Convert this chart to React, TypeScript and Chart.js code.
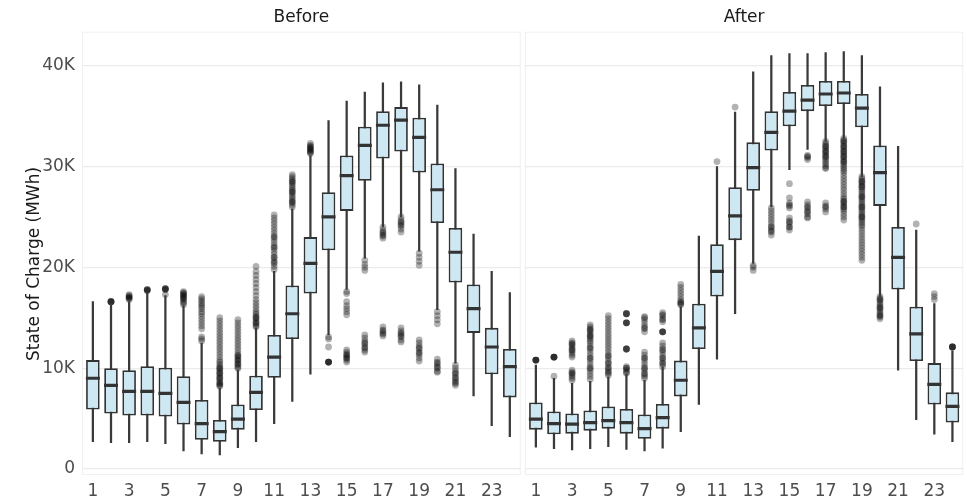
import React, { useEffect, useRef } from 'react';
import { Chart, registerables } from 'chart.js';

Chart.register(...registerables);
Chart.defaults.font.family = "'DejaVu Sans', sans-serif";

// ---------- data (values in thousands of MWh) ----------
const hours = [1, 2, 3, 4, 5, 6, 7, 8, 9, 10, 11, 12, 13, 14, 15, 16, 17, 18, 19, 20, 21, 22, 23, 24];
const xTickValues = [1, 3, 5, 7, 9, 11, 13, 15, 17, 19, 21, 23];
const yTickValues = [0, 10, 20, 30, 40];
const facetTitles = ['Before', 'After'];
const yAxisTitle = 'State of Charge (MWh)';

const beforeLow = [2.7, 2.6, 2.6, 2.7, 2.5, 1.8, 1.5, 1.4, 2.1, 2.7, 4.5, 6.7, 9.4, 13.3, 17.8, 20.9, 24.0, 25.0, 21.6, 15.8, 10.5, 7.25, 4.3, 3.2];
const beforeQ1 = [5.9, 5.5, 5.3, 5.3, 5.2, 4.4, 2.9, 2.7, 3.9, 5.85, 9.05, 12.9, 17.4, 21.7, 25.6, 28.6, 30.8, 31.5, 29.4, 24.4, 18.5, 13.5, 9.4, 7.1];
const beforeMedian = [9.0, 8.3, 7.7, 7.7, 7.5, 6.6, 4.5, 3.7, 4.95, 7.6, 11.1, 15.4, 20.4, 25.0, 29.1, 32.1, 34.1, 34.6, 32.9, 27.7, 21.5, 15.9, 12.1, 10.15];
const beforeQ3 = [10.8, 10.0, 9.8, 10.2, 10.05, 9.2, 6.85, 4.85, 6.4, 9.25, 13.3, 18.2, 23.0, 27.45, 31.1, 33.95, 35.5, 35.9, 34.85, 30.3, 23.9, 18.3, 14.0, 11.9];
const beforeHigh = [16.6, 16.4, 16.6, 17.5, 17.2, 16.2, 12.5, 8.0, 9.8, 14.0, 19.6, 25.8, 31.1, 34.55, 36.5, 37.4, 38.3, 38.4, 38.1, 36.1, 29.8, 23.3, 19.6, 17.5];
const beforeOutliers: number[][] = [
  [],
  [16.6, 16.6, 16.6, 16.6, 16.6],
  [16.8, 16.9, 17.0, 17.1, 17.2, 17.3, 17.0],
  [17.8, 17.8, 17.8, 17.7, 17.7],
  [17.3, 17.8, 17.8, 17.9, 17.9, 17.9],
  [16.3, 16.5, 16.6, 16.8, 16.9, 17.0, 17.1, 17.2, 17.3, 17.4, 17.5, 17.6],
  [12.7, 12.9, 13.1, 13.9, 14.2, 14.5, 14.8, 15.1, 15.4, 15.6, 15.9, 16.1, 16.3, 16.5, 16.7, 16.9, 17.1],
  [15.0, 14.7, 14.4, 14.1, 13.8, 13.5, 13.2, 12.9, 12.6, 12.3, 12.0, 11.7, 11.4, 11.1, 10.8, 10.6, 10.4, 10.2, 10.0, 9.8, 9.6, 9.4, 9.2, 9.0, 8.8, 8.6, 8.4, 8.2, 9.5, 9.0, 8.5, 8.3, 10.0],
  [14.8, 14.5, 14.2, 13.9, 13.6, 13.3, 13.0, 12.7, 12.4, 12.1, 11.8, 11.5, 11.3, 11.1, 10.9, 10.7, 10.5, 10.3, 10.1, 10.0, 10.4, 10.8, 11.2],
  [20.1, 19.6, 19.2, 18.8, 18.4, 18.0, 17.6, 17.2, 16.8, 16.5, 16.2, 15.9, 15.6, 15.4, 15.2, 15.0, 14.8, 14.6, 14.4, 14.2, 14.1, 15.0, 14.5],
  [25.2, 24.9, 24.6, 24.3, 24.0, 23.7, 23.4, 23.1, 22.8, 22.5, 22.2, 21.9, 21.6, 21.3, 21.0, 20.7, 20.4, 20.1, 19.8, 23.0, 22.0, 21.0, 20.5],
  [29.2, 29.0, 28.8, 28.6, 28.4, 28.2, 28.0, 27.8, 27.6, 27.4, 27.2, 27.0, 26.8, 26.6, 26.4, 26.2, 26.0, 28.5, 27.5, 26.5],
  [31.3, 31.5, 31.7, 31.9, 32.1, 32.3, 31.6, 32.0, 31.8, 31.4],
  [13.1, 12.9, 12.1, 10.6, 10.6, 10.6, 10.6, 10.6],
  [17.6, 17.4, 16.6, 16.2, 15.9, 15.6, 15.3, 11.8, 11.6, 11.4, 11.2, 11.0, 10.8, 10.6, 11.3, 11.0],
  [20.7, 20.3, 20.0, 19.7, 13.3, 13.0, 12.7, 12.4, 12.1, 11.8, 11.6, 12.5, 12.0],
  [24.0, 23.7, 23.4, 23.1, 22.9, 23.5, 23.2, 14.1, 13.8, 13.5, 13.2, 13.7, 13.4],
  [25.0, 24.7, 24.4, 24.1, 23.8, 23.5, 24.5, 24.2, 14.0, 13.7, 13.4, 13.1, 12.8, 12.6, 13.5, 13.2],
  [21.4, 21.0, 20.6, 20.2, 12.8, 12.5, 12.2, 11.9, 11.6, 11.3, 11.0, 10.7, 12.0, 11.5],
  [15.6, 15.2, 14.8, 14.4, 10.9, 10.6, 10.3, 10.0, 9.7, 9.6, 10.5, 10.1],
  [10.3, 10.0, 9.7, 9.4, 9.1, 8.8, 8.5, 8.3, 9.5, 9.0, 8.6],
  [],
  [],
  [],
];

const afterLow = [2.15, 2.0, 1.9, 2.0, 2.2, 1.95, 1.8, 2.05, 3.7, 6.4, 10.9, 15.4, 20.4, 26.0, 29.7, 31.7, 32.5, 32.8, 29.0, 17.1, 9.8, 4.9, 3.45, 2.7];
const afterQ1 = [3.9, 3.45, 3.5, 3.8, 4.0, 3.5, 3.0, 4.0, 7.2, 11.9, 17.1, 22.7, 27.6, 31.6, 34.0, 35.5, 36.0, 36.2, 33.9, 26.1, 17.8, 10.7, 6.4, 4.6];
const afterMedian = [4.95, 4.5, 4.45, 4.6, 4.8, 4.6, 4.0, 5.1, 8.8, 14.0, 19.6, 25.1, 29.9, 33.4, 35.5, 36.6, 37.2, 37.3, 35.8, 29.4, 21.0, 13.4, 8.4, 6.2];
const afterQ3 = [6.6, 5.7, 5.5, 5.8, 6.2, 5.95, 5.4, 6.45, 10.75, 16.4, 22.3, 27.95, 32.4, 35.5, 37.4, 38.1, 38.5, 38.5, 37.2, 32.1, 24.0, 16.1, 10.5, 7.6];
const afterHigh = [10.3, 9.0, 8.5, 8.7, 9.15, 9.4, 8.8, 10.1, 16.1, 23.1, 30.0, 35.4, 39.4, 41.0, 41.2, 41.2, 41.3, 41.4, 41.0, 37.9, 32.0, 23.7, 16.4, 11.7];
const afterOutliers: number[][] = [
  [10.8, 10.8, 10.8, 10.8, 10.8],
  [11.1, 11.1, 11.1, 11.1, 11.1, 9.2],
  [12.7, 12.5, 12.3, 12.1, 11.9, 11.7, 11.5, 11.3, 11.1, 12.4, 11.8, 9.8, 9.6, 9.4, 9.2, 9.0, 8.8, 9.5],
  [14.3, 14.1, 13.9, 13.7, 13.5, 13.3, 13.1, 12.9, 12.7, 12.5, 12.2, 11.9, 11.6, 11.3, 11.0, 10.7, 10.4, 10.1, 9.8, 9.5, 9.2, 8.9, 13.8, 13.2, 12.0, 11.0, 10.0],
  [15.2, 14.9, 14.6, 14.3, 14.0, 13.7, 13.4, 13.1, 12.8, 12.5, 12.2, 11.9, 11.6, 11.3, 11.0, 10.7, 10.4, 10.1, 9.8, 9.5, 9.3, 11.2, 10.5, 10.0, 9.6],
  [15.4, 15.4, 15.4, 15.4, 14.5, 14.5, 14.5, 14.5, 11.9, 11.9, 11.9, 11.9, 10.15, 10.0, 9.8, 9.6, 9.5, 10.0],
  [15.1, 14.8, 14.5, 14.2, 13.9, 13.6, 15.0, 14.0, 11.6, 11.3, 11.0, 10.7, 10.4, 10.1, 9.8, 9.5, 9.2, 9.0, 11.0, 10.0, 9.4],
  [15.5, 15.2, 14.9, 14.6, 15.3, 14.8, 13.6, 13.6, 13.6, 13.6, 12.5, 12.2, 11.9, 11.6, 11.3, 11.0, 10.7, 10.4, 10.15, 11.8, 11.0, 10.5],
  [18.3, 18.0, 17.7, 17.4, 17.1, 16.8, 16.5, 16.3, 16.6, 16.4],
  [],
  [30.5],
  [35.9],
  [20.2, 20.0, 19.7],
  [25.9, 25.6, 25.3, 25.0, 24.7, 24.4, 24.1, 23.8, 23.5, 23.2, 24.0, 23.6],
  [28.3, 26.9, 26.4, 26.1, 25.9, 26.2, 24.9, 24.6, 24.3, 24.0, 23.7, 24.5, 24.0],
  [31.1, 30.9, 30.7, 31.0, 26.5, 26.2, 25.9, 25.6, 25.3, 25.0, 24.9, 26.0, 25.5],
  [32.5, 32.3, 32.1, 31.9, 31.7, 31.5, 31.3, 31.1, 30.9, 30.7, 30.5, 30.3, 30.1, 29.9, 29.8, 32.0, 31.5, 31.0, 26.4, 26.1, 25.8, 25.5, 26.0],
  [32.8, 32.6, 32.4, 32.2, 32.0, 31.8, 31.6, 31.4, 31.2, 31.0, 30.8, 30.6, 30.4, 30.2, 30.0, 29.8, 29.6, 29.4, 29.1, 28.8, 28.5, 28.2, 27.9, 27.6, 27.3, 27.0, 26.8, 26.6, 26.4, 26.2, 26.0, 25.8, 25.6, 25.3, 25.0, 24.7, 32.5, 32.0, 31.5, 31.0, 30.5, 26.5, 26.0],
  [29.0, 28.8, 28.6, 28.4, 28.2, 28.0, 27.8, 27.6, 27.4, 27.2, 27.0, 26.8, 26.6, 26.4, 26.2, 26.0, 25.8, 25.6, 25.4, 25.2, 25.0, 24.8, 24.6, 24.4, 24.2, 24.0, 23.7, 23.4, 23.1, 22.8, 22.5, 22.2, 21.9, 21.6, 21.3, 21.0, 20.7, 28.5, 28.0, 27.0, 26.0, 25.0],
  [17.1, 16.9, 16.7, 16.5, 16.3, 16.1, 15.9, 15.7, 15.5, 15.3, 15.1, 14.9, 16.8, 16.0, 15.2],
  [],
  [24.3],
  [17.4, 17.1, 16.8],
  [12.1, 12.1, 12.1, 12.1, 12.1],
];

// ---------- styling ----------
const BOX_FILL = '#cde7f3';
const LINE_COLOR = '#333333';
const GRID_COLOR = '#ebebeb';
const TICK_COLOR = '#4d4d4d';
const TEXT_COLOR = '#1a1a1a';
const FONT_SIZE = 17;

const panelBorder = {
  id: 'panelBorder',
  beforeDatasetsDraw(chart: any) {
    const { ctx, chartArea } = chart;
    ctx.save();
    ctx.strokeStyle = '#f0f0f0';
    ctx.lineWidth = 1;
    ctx.strokeRect(chartArea.left + 0.5, chartArea.top + 0.5, chartArea.right - chartArea.left - 1, chartArea.bottom - chartArea.top - 1);
    ctx.restore();
  },
};

const yTitlePlugin = {
  id: 'yTitle',
  afterDraw(chart: any, _args: any, opts: any) {
    if (!opts || !opts.text) return;
    const { ctx } = chart;
    ctx.save();
    ctx.translate(opts.x, opts.y);
    ctx.rotate(-Math.PI / 2);
    ctx.textAlign = 'center';
    ctx.textBaseline = 'middle';
    ctx.font = `${FONT_SIZE}px 'DejaVu Sans', sans-serif`;
    ctx.fillStyle = TEXT_COLOR;
    ctx.fillText(opts.text, 0, 0);
    ctx.restore();
  },
};

function buildConfig(
  title: string,
  low: number[],
  q1: number[],
  med: number[],
  q3: number[],
  high: number[],
  outliers: number[][],
  showY: boolean,
  padLeft: number,
  padRight: number
): any {
  const outlierPoints = hours.flatMap((h, i) => outliers[i].map((v) => ({ x: h, y: v })));
  return {
    type: 'bar',
    data: {
      datasets: [
        {
          type: 'scatter',
          label: 'median',
          data: hours.map((h, i) => ({ x: h, y: med[i] })),
          pointStyle: 'line',
          pointRadius: 7,
          pointHoverRadius: 7,
          borderWidth: 3.2,
          borderColor: LINE_COLOR,
          backgroundColor: LINE_COLOR,
          order: 0,
        },
        {
          type: 'bar',
          label: 'box',
          data: hours.map((h, i) => ({ x: h, y: [q1[i], q3[i]] })),
          backgroundColor: BOX_FILL,
          borderColor: LINE_COLOR,
          borderWidth: 1.8,
          borderSkipped: false,
          grouped: false,
          barPercentage: 0.75,
          categoryPercentage: 1,
          order: 1,
        },
        {
          type: 'bar',
          label: 'whisker',
          data: hours.map((h, i) => ({ x: h, y: [low[i], high[i]] })),
          backgroundColor: '#3a3a3a',
          borderWidth: 0,
          grouped: false,
          barThickness: 1.6,
          order: 2,
        },
        {
          type: 'scatter',
          label: 'outliers',
          data: outlierPoints,
          pointRadius: 3.4,
          pointHoverRadius: 3.4,
          borderWidth: 0,
          backgroundColor: 'rgba(0,0,0,0.3)',
          order: 3,
        },
      ],
    },
    options: {
      responsive: false,
      animation: false,
      events: [],
      layout: { autoPadding: false, padding: { left: padLeft, right: padRight, top: 0, bottom: 0 } },
      plugins: {
        legend: { display: false },
        tooltip: { enabled: false },
        title: {
          display: true,
          text: title,
          color: TEXT_COLOR,
          fullSize: false,
          font: { size: FONT_SIZE, weight: 'normal' },
          padding: { top: 7.5, bottom: 3.8 },
        },
        yTitle: showY ? { text: yAxisTitle, x: 35, y: 264 } : { text: '' },
      },
      scales: {
        x: {
          type: 'linear',
          min: 0.4,
          max: 24.6,
          offset: false,
          afterBuildTicks: (s: any) => {
            s.ticks = xTickValues.map((v) => ({ value: v }));
          },
          afterFit: (s: any) => {
            s.height = 24;
          },
          grid: { display: false, drawTicks: false },
          border: { display: false },
          ticks: { color: TICK_COLOR, font: { size: FONT_SIZE }, padding: 6, autoSkip: false, maxRotation: 0 },
        },
        y: {
          type: 'linear',
          min: -0.6,
          max: 43.38,
          afterBuildTicks: (s: any) => {
            s.ticks = yTickValues.map((v) => ({ value: v }));
          },
          afterFit: (s: any) => {
            s.width = showY ? 82 : 0;
          },
          grid: { color: GRID_COLOR, lineWidth: 1.3, drawTicks: false },
          border: { display: false },
          ticks: {
            display: showY,
            color: TICK_COLOR,
            font: { size: FONT_SIZE },
            padding: 7,
            callback: (v: any) => (v === 0 ? '0' : v + 'K'),
          },
          title: { display: false },
        },
      },
    },
    plugins: [panelBorder, yTitlePlugin],
  };
}

function Panel(props: { config: any; left: number; width: number }) {
  const ref = useRef<HTMLCanvasElement | null>(null);
  useEffect(() => {
    if (!ref.current) return;
    const chart = new Chart(ref.current, props.config);
    return () => chart.destroy();
  }, []);
  return (
    <div style={{ position: 'absolute', left: props.left, top: 0, width: props.width, height: 499 }}>
      <canvas ref={ref} width={props.width} height={499} style={{ width: props.width, height: 499, display: 'block' }} />
    </div>
  );
}

export default function App() {
  const beforeCfg = buildConfig(facetTitles[0], beforeLow, beforeQ1, beforeMedian, beforeQ3, beforeHigh, beforeOutliers, true, 0, 0.3);
  const afterCfg = buildConfig(facetTitles[1], afterLow, afterQ1, afterMedian, afterQ3, afterHigh, afterOutliers, false, 4, 3.7);
  return (
    <div style={{ position: 'absolute', left: 0, top: 0, width: 967, height: 499, background: '#fff', overflow: 'hidden' }}>
      <Panel config={beforeCfg} left={0} width={521} />
      <Panel config={afterCfg} left={521} width={446} />
    </div>
  );
}
